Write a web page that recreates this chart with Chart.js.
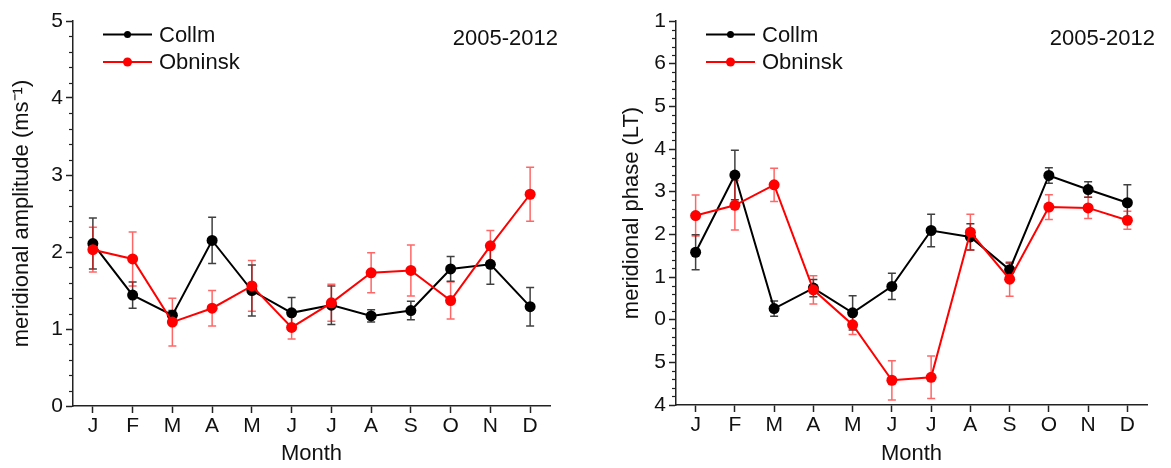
<!DOCTYPE html>
<html>
<head>
<meta charset="utf-8">
<script src="https://cdn.jsdelivr.net/npm/chart.js@4/dist/chart.umd.min.js"></script>
<style>
html,body{margin:0;padding:0;background:#fff;}
#wrap{position:relative;width:1171px;height:468px;overflow:hidden;}
#c1{position:absolute;left:0;top:0;}
#c2{position:absolute;left:590px;top:0;}
</style>
</head>
<body>
<div id="wrap">
<canvas id="c1" width="590" height="468"></canvas>
<canvas id="c2" width="581" height="468"></canvas>
</div>
<script>
// ---- data ----
const months = ["J","F","M","A","M","J","J","A","S","O","N","D"];

const collmAmp     = [2.11, 1.44, 1.18, 2.15, 1.50, 1.21, 1.31, 1.17, 1.24, 1.78, 1.84, 1.29];
const collmAmpErr  = [0.33, 0.17, 0.06, 0.30, 0.33, 0.20, 0.25, 0.08, 0.12, 0.16, 0.26, 0.25];
const obnAmp       = [2.03, 1.91, 1.09, 1.27, 1.56, 1.02, 1.34, 1.73, 1.76, 1.37, 2.08, 2.75];
const obnAmpErr    = [0.29, 0.35, 0.31, 0.23, 0.33, 0.15, 0.24, 0.26, 0.33, 0.24, 0.20, 0.35];

const collmPhase    = [1.58, 3.39, 0.26, 0.74, 0.16, 0.78, 2.09, 1.94, 1.17, 3.38, 3.05, 2.74];
const collmPhaseErr = [0.41, 0.58, 0.18, 0.20, 0.40, 0.31, 0.38, 0.31, 0.16, 0.18, 0.18, 0.42];
const obnPhase      = [2.44, 2.68, 3.16, 0.70, -0.12, -1.42, -1.35, 2.05, 0.95, 2.64, 2.62, 2.33];
const obnPhaseErr   = [0.48, 0.58, 0.39, 0.33, 0.23, 0.46, 0.50, 0.42, 0.40, 0.29, 0.25, 0.21];

const ampTicks   = ["0","1","2","3","4","5"];          // values 0..5
const phaseTicks = ["4","5","0","1","2","3","4","5","6","1"]; // values -2..7

const seriesNames = ["Collm","Obninsk"];
const periodText = "2005-2012";

// ---- helpers ----
const FONT = "'Liberation Sans', Arial, sans-serif";
const BLACK = "#000000", RED = "#ff0000";

const errorBarPlugin = {
  id: 'errbars',
  beforeDatasetsDraw(chart) {
    const ctx = chart.ctx, y = chart.scales.y;
    const errs = chart.options.plugins.errbars.errors;
    const cols = chart.options.plugins.errbars.colors;
    [1, 0].forEach(di => {
      const meta = chart.getDatasetMeta(di);
      const data = chart.data.datasets[di].data;
      ctx.save();
      ctx.strokeStyle = cols[di];
      ctx.lineWidth = 1.5;
      meta.data.forEach((pt, i) => {
        const e = errs[di][i];
        const yt = y.getPixelForValue(data[i] + e);
        const yb = y.getPixelForValue(data[i] - e);
        const x = pt.x;
        ctx.beginPath();
        ctx.moveTo(x, yt); ctx.lineTo(x, yb);
        ctx.moveTo(x - 4, yt); ctx.lineTo(x + 4, yt);
        ctx.moveTo(x - 4, yb); ctx.lineTo(x + 4, yb);
        ctx.stroke();
      });
      ctx.restore();
    });
  }
};

const minorTickPlugin = {
  id: 'minorticks',
  afterDraw(chart) {
    const ctx = chart.ctx, y = chart.scales.y, a = chart.chartArea;
    ctx.save();
    ctx.strokeStyle = '#222';
    ctx.lineWidth = 1.2;
    for (let v = y.min; v <= y.max + 1e-9; v += 0.2) {
      const r = Math.round(v * 5) / 5;
      if (Math.abs(r - Math.round(r)) < 1e-6) continue;
      const py = Math.round(y.getPixelForValue(r)) + 0.5;
      ctx.beginPath();
      ctx.moveTo(a.left - 4, py); ctx.lineTo(a.left, py);
      ctx.stroke();
    }
    ctx.restore();
  }
};

const legendPlugin = {
  id: 'customlegend',
  afterDraw(chart) {
    const ctx = chart.ctx, a = chart.chartArea;
    const cols = [BLACK, RED];
    const rads = [3.5, 4.5];
    ctx.save();
    ctx.font = "22px " + FONT;
    ctx.textBaseline = 'middle';
    seriesNames.forEach((name, i) => {
      const yy = 34.5 + i * 27.5;
      const x0 = a.left + 30, x1 = a.left + 79;
      ctx.strokeStyle = cols[i];
      ctx.lineWidth = 2;
      ctx.beginPath(); ctx.moveTo(x0, yy); ctx.lineTo(x1, yy); ctx.stroke();
      ctx.fillStyle = cols[i];
      ctx.beginPath(); ctx.arc((x0 + x1) / 2, yy, rads[i], 0, Math.PI * 2); ctx.fill();
      ctx.fillStyle = '#111';
      ctx.textAlign = 'left';
      ctx.fillText(name, x1 + 7, yy + 1);
    });
    ctx.textAlign = 'right';
    ctx.fillStyle = '#111';
    ctx.fillText(periodText, a.right + 8, 39);
    ctx.restore();
  }
};

function makeChart(id, cfg) {
  const ds = [
    { label: seriesNames[1], data: cfg.obn, borderColor: RED, backgroundColor: RED,
      borderWidth: 2, pointRadius: 5.5, pointHoverRadius: 5.5, pointBorderWidth: 0, order: 0, tension: 0 },
    { label: seriesNames[0], data: cfg.collm, borderColor: BLACK, backgroundColor: BLACK,
      borderWidth: 2, pointRadius: 5.5, pointHoverRadius: 5.5, pointBorderWidth: 0, order: 1, tension: 0 }
  ];
  return new Chart(document.getElementById(id), {
    type: 'line',
    data: { labels: months, datasets: ds },
    options: {
      responsive: false,
      animation: false,
      events: [],
      layout: { padding: { left: 0, right: cfg.padRight, top: cfg.padTop, bottom: 0 } },
      plugins: {
        legend: { display: false },
        tooltip: { enabled: false },
        errbars: { errors: [cfg.obnErr, cfg.collmErr], colors: ['rgba(255,0,0,0.6)', 'rgba(0,0,0,0.75)'] }
      },
      scales: {
        x: {
          type: 'category',
          offset: true,
          grid: { display: true, offset: false, drawOnChartArea: false, tickLength: 7, tickColor: '#222', tickWidth: 1.5 },
          border: { display: true, color: '#222', width: 1.5 },
          ticks: { color: '#111', font: { family: FONT, size: 21 }, padding: 1, maxRotation: 0, autoSkip: false },
          title: { display: true, text: 'Month', color: '#111', font: { family: FONT, size: 22 }, padding: { top: 0, bottom: 1 } },
          afterFit(s) { s.height = cfg.xHeight; }
        },
        y: {
          min: cfg.ymin, max: cfg.ymax,
          grid: { display: true, drawOnChartArea: false, tickLength: 7, tickColor: '#222', tickWidth: 1.5 },
          border: { display: true, color: '#222', width: 1.5 },
          ticks: { stepSize: 1, color: '#111', font: { family: FONT, size: 21 }, padding: 3,
                   callback: (v) => cfg.tickLabels[Math.round(v - cfg.ymin)] },
          title: { display: true, text: cfg.ytitle, color: '#111', font: { family: FONT, size: 22 }, padding: { top: cfg.titlePad, bottom: 0 } },
          afterFit(s) { s.width = cfg.yWidth; }
        }
      }
    },
    plugins: [errorBarPlugin, minorTickPlugin, legendPlugin]
  });
}

makeChart('c1', {
  collm: collmAmp, collmErr: collmAmpErr, obn: obnAmp, obnErr: obnAmpErr,
  ymin: 0, ymax: 5, tickLabels: ampTicks,
  ytitle: 'meridional amplitude (ms\u207B\u00B9)',
  padRight: 40, padTop: 21, xHeight: 62, yWidth: 73, titlePad: 9
});

makeChart('c2', {
  collm: collmPhase, collmErr: collmPhaseErr, obn: obnPhase, obnErr: obnPhaseErr,
  ymin: -2, ymax: 7, tickLabels: phaseTicks,
  ytitle: 'meridional phase (LT)',
  padRight: 24, padTop: 21, xHeight: 63, yWidth: 86, titlePad: 29
});
</script>
</body>
</html>
